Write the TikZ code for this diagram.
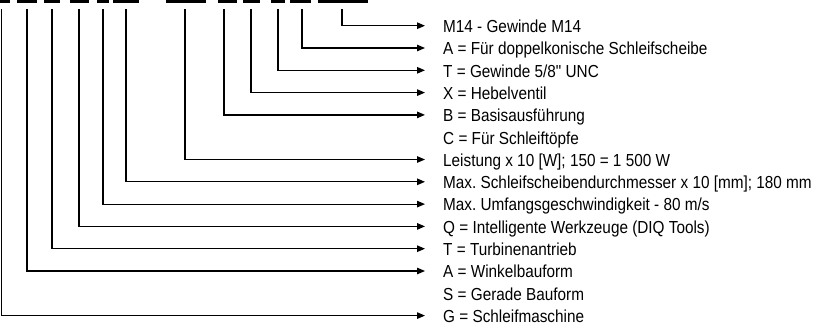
\documentclass[tikz,border=0pt]{standalone}
\usepackage{fontspec}
\setmainfont{Liberation Sans}[FakeStretch=0.88,Ligatures=TeXOff]
\usetikzlibrary{arrows.meta}
\frenchspacing
\begin{document}
\begin{tikzpicture}[x=1pt,y=-1pt,
  bar/.style={fill=black,draw=none},
  lead/.style={draw=black,line width=1.2pt},
  arr/.style={lead,-{Triangle[length=8pt,width=6.5pt]},shorten >=18pt},
  lbl/.style={anchor=west,inner sep=0pt,text height=13.6pt,text depth=0pt,font=\fontsize{17.4pt}{19pt}\selectfont}]
\useasboundingbox (0,0) rectangle (813,327);
% top code bars (cut off)
\foreach \a/\b in {0/10,17/37,44/60,70/89,97/109,113/139,166/206,218/237,243/260,271/285,290/311,318/368}
  \fill[bar] (\a,0) rectangle (\b,3.3);
% labels
\node[lbl] (l0) at (443,{25.7+22.3*0}) {M14 - Gewinde M14};
\node[lbl] (l1) at (443,{25.7+22.3*1}) {A = Für doppelkonische Schleifscheibe};
\node[lbl] (l2) at (443,{25.7+22.3*2}) {T = Gewinde 5/8" UNC};
\node[lbl] (l3) at (443,{25.7+22.3*3}) {X = Hebelventil};
\node[lbl] (l4) at (443,{25.7+22.3*4}) {B = Basisausführung};
\node[lbl] (l5) at (443,{25.7+22.3*5}) {C = Für Schleiftöpfe};
\node[lbl] (l6) at (443,{25.7+22.3*6}) {Leistung x 10 [W]; 150 = 1 500 W};
\node[lbl] (l7) at (443,{25.7+22.3*7}) {Max. Schleifscheibendurchmesser x 10 [mm]; 180 mm};
\node[lbl] (l8) at (443,{25.7+22.3*8}) {Max. Umfangsgeschwindigkeit - 80 m/s};
\node[lbl] (l9) at (443,{25.7+22.3*9}) {Q = Intelligente Werkzeuge (DIQ Tools)};
\node[lbl] (l10) at (443,{25.7+22.3*10}) {T = Turbinenantrieb};
\node[lbl] (l11) at (443,{25.7+22.3*11}) {A = Winkelbauform};
\node[lbl] (l12) at (443,{25.7+22.3*12}) {S = Gerade Bauform};
\node[lbl] (l13) at (443,{25.7+22.3*13}) {G = Schleifmaschine};
% leader start points
\foreach \n/\x in {0/342,1/302,2/278,3/251,4/224,6/185,7/126,8/103,9/79,10/52,11/27,13/1.5}
  \coordinate (s\n) at (\x,9);
\foreach \n in {0,1,2,3,4,6,7,8,9,10,11,13}
  \draw[arr] (s\n) |- (l\n.west);
\end{tikzpicture}
\end{document}
